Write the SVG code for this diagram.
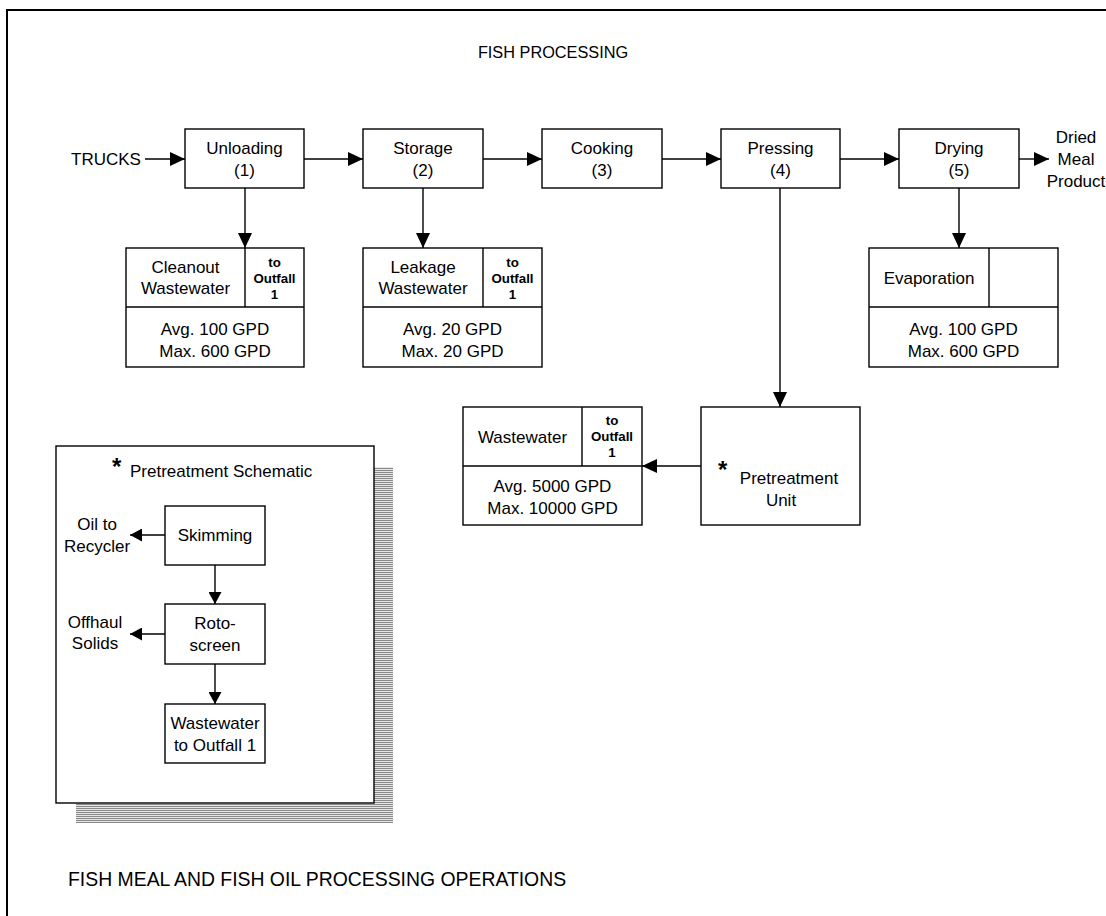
<svg xmlns="http://www.w3.org/2000/svg" width="1106" height="916" viewBox="0 0 1106 916">
<defs>
<marker id="ah" markerUnits="userSpaceOnUse" markerWidth="15" markerHeight="14" refX="15" refY="7" orient="auto"><path d="M0,0 L15,7 L0,14 z" fill="#000"/></marker>
<marker id="ahs" markerUnits="userSpaceOnUse" markerWidth="12" markerHeight="13" refX="12" refY="6.5" orient="auto"><path d="M0,0 L12,6.5 L0,13 z" fill="#000"/></marker>
<pattern id="hatch" patternUnits="userSpaceOnUse" width="4" height="2"><rect width="4" height="2" fill="#e4e4e4"/><rect width="4" height="1" fill="#8a8a8a"/></pattern>
<style>
.b{fill:#fff;stroke:#000;stroke-width:1.4}
.l{fill:none;stroke:#000;stroke-width:1.4}
.t{font-family:"Liberation Sans",Arial,sans-serif;font-size:17px;fill:#000;text-anchor:middle}
.s{font-family:"Liberation Sans",Arial,sans-serif;font-size:13.3px;font-weight:bold;fill:#000;text-anchor:middle}
.st{font-family:"Liberation Sans",Arial,sans-serif;font-size:24px;font-weight:bold;fill:#000}
</style>
</defs>
<rect width="1106" height="916" fill="#fff"/>
<rect x="7" y="10" width="1110" height="920" fill="none" stroke="#000" stroke-width="2"/>
<text class="t" x="553" y="58" style="font-size:16.3px">FISH PROCESSING</text>
<text class="t" x="68" y="886" style="text-anchor:start;font-size:19.4px">FISH MEAL AND FISH OIL PROCESSING OPERATIONS</text>

<g id="connectors">
<line class="l" x1="145" y1="159" x2="185" y2="159" marker-end="url(#ah)"/>
<line class="l" x1="304" y1="159" x2="363" y2="159" marker-end="url(#ah)"/>
<line class="l" x1="483" y1="159" x2="542" y2="159" marker-end="url(#ah)"/>
<line class="l" x1="662" y1="159" x2="721" y2="159" marker-end="url(#ah)"/>
<line class="l" x1="840" y1="159" x2="899" y2="159" marker-end="url(#ah)"/>
<line class="l" x1="1019" y1="159" x2="1049" y2="159" marker-end="url(#ah)"/>
<line class="l" x1="245" y1="188" x2="245" y2="248" marker-end="url(#ah)"/>
<line class="l" x1="423" y1="188" x2="423" y2="248" marker-end="url(#ah)"/>
<line class="l" x1="959" y1="188" x2="959" y2="248" marker-end="url(#ah)"/>
<line class="l" x1="780" y1="188" x2="780" y2="407" marker-end="url(#ah)"/>
<line class="l" x1="701" y1="466" x2="642" y2="466" marker-end="url(#ah)"/>
</g>

<g id="unloading"><rect class="b" x="185" y="129" width="119" height="59"/><text class="t" x="244.5" y="154">Unloading</text><text class="t" x="244.5" y="176">(1)</text></g>
<g id="storage"><rect class="b" x="363" y="129" width="120" height="59"/><text class="t" x="423" y="154">Storage</text><text class="t" x="423" y="176">(2)</text></g>
<g id="cooking"><rect class="b" x="542" y="129" width="120" height="59"/><text class="t" x="602" y="154">Cooking</text><text class="t" x="602" y="176">(3)</text></g>
<g id="pressing"><rect class="b" x="721" y="129" width="119" height="59"/><text class="t" x="780.5" y="154">Pressing</text><text class="t" x="780.5" y="176">(4)</text></g>
<g id="drying"><rect class="b" x="899" y="129" width="120" height="59"/><text class="t" x="959" y="154">Drying</text><text class="t" x="959" y="176">(5)</text></g>
<g id="trucks"><text class="t" x="106" y="165">TRUCKS</text></g>
<g id="dried"><text class="t" x="1076" y="143">Dried</text><text class="t" x="1076" y="165">Meal</text><text class="t" x="1076" y="187">Product</text></g>

<g id="cleanout"><rect class="b" x="126" y="248" width="178" height="119"/><line class="l" x1="245" y1="248" x2="245" y2="307"/><line class="l" x1="126" y1="307" x2="304" y2="307"/>
<text class="t" x="185.5" y="273">Cleanout</text><text class="t" x="185.5" y="294">Wastewater</text>
<text class="s" x="274.5" y="267">to</text><text class="s" x="274.5" y="283">Outfall</text><text class="s" x="274.5" y="299">1</text>
<text class="t" x="215" y="335">Avg. 100 GPD</text><text class="t" x="215" y="357">Max. 600 GPD</text></g>

<g id="leakage"><rect class="b" x="363" y="248" width="179" height="119"/><line class="l" x1="483" y1="248" x2="483" y2="307"/><line class="l" x1="363" y1="307" x2="542" y2="307"/>
<text class="t" x="423" y="273">Leakage</text><text class="t" x="423" y="294">Wastewater</text>
<text class="s" x="512.5" y="267">to</text><text class="s" x="512.5" y="283">Outfall</text><text class="s" x="512.5" y="299">1</text>
<text class="t" x="452.5" y="335">Avg. 20 GPD</text><text class="t" x="452.5" y="357">Max. 20 GPD</text></g>

<g id="evaporation"><rect class="b" x="869" y="248" width="189" height="119"/><line class="l" x1="989" y1="248" x2="989" y2="307"/><line class="l" x1="869" y1="307" x2="1058" y2="307"/>
<text class="t" x="929" y="284">Evaporation</text>
<text class="t" x="963.5" y="335">Avg. 100 GPD</text><text class="t" x="963.5" y="357">Max. 600 GPD</text></g>

<g id="wastewater"><rect class="b" x="463" y="407" width="179" height="118"/><line class="l" x1="582" y1="407" x2="582" y2="466"/><line class="l" x1="463" y1="466" x2="642" y2="466"/>
<text class="t" x="522.5" y="443">Wastewater</text>
<text class="s" x="612" y="425">to</text><text class="s" x="612" y="441">Outfall</text><text class="s" x="612" y="457">1</text>
<text class="t" x="552.5" y="492">Avg. 5000 GPD</text><text class="t" x="552.5" y="514">Max. 10000 GPD</text></g>

<g id="pretreatment-unit"><rect class="b" x="701" y="407" width="159" height="118"/>
<text class="st" x="718" y="478">*</text>
<text class="t" x="789" y="484">Pretreatment</text><text class="t" x="781" y="506">Unit</text></g>

<g id="schematic">
<rect x="76" y="467" width="317" height="356" fill="url(#hatch)"/>
<rect class="b" x="56" y="446" width="318" height="357"/>
<text class="st" x="112" y="475">*</text>
<text class="t" x="130" y="477" style="text-anchor:start">Pretreatment Schematic</text>
<line class="l" x1="165" y1="535" x2="130" y2="535" marker-end="url(#ahs)"/>
<line class="l" x1="165" y1="634" x2="130" y2="634" marker-end="url(#ahs)"/>
<line class="l" x1="215" y1="565" x2="215" y2="604" marker-end="url(#ahs)"/>
<line class="l" x1="215" y1="664" x2="215" y2="704" marker-end="url(#ahs)"/>
<text class="t" x="97" y="530">Oil to</text><text class="t" x="97" y="552">Recycler</text>
<text class="t" x="95" y="628">Offhaul</text><text class="t" x="95" y="649">Solids</text>
</g>
<g id="skimming"><rect class="b" x="165" y="506" width="100" height="59"/><text class="t" x="215" y="541">Skimming</text></g>
<g id="rotoscreen"><rect class="b" x="165" y="604" width="100" height="60"/><text class="t" x="215" y="629">Roto-</text><text class="t" x="215" y="651">screen</text></g>
<g id="ww-outfall"><rect class="b" x="165" y="704" width="100" height="59"/><text class="t" x="215" y="729">Wastewater</text><text class="t" x="215" y="751">to Outfall 1</text></g>
</svg>
